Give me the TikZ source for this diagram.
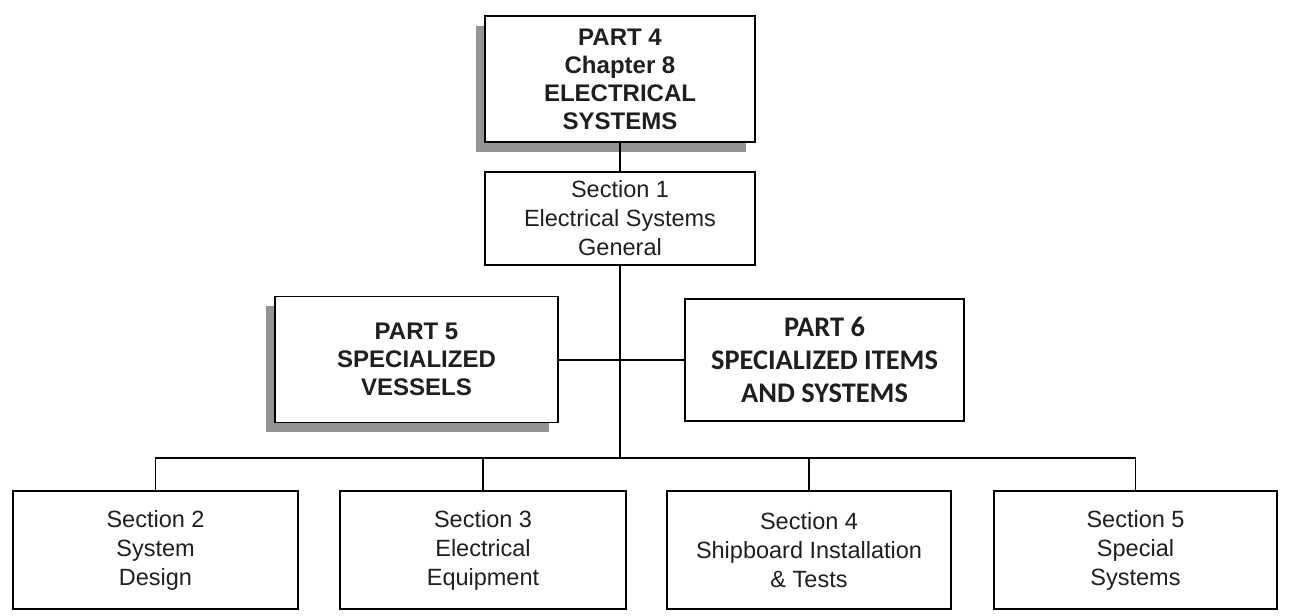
\documentclass[tikz,border=0pt]{standalone}
\usepackage{fontspec}
\setmainfont{Liberation Sans}
\newfontfamily\carlito{Carlito}
\usetikzlibrary{shadows}
\tikzset{
  wh/.style 2 args={minimum width=#1*0.5pt, minimum height=#2*0.5pt},
  box/.style={draw, line width=0.9pt, inner sep=0pt, outer sep=0pt, align=center, fill=white, text=black!88},
  shade box/.style={box, drop shadow={shadow xshift=-4.5pt, shadow yshift=-4.8pt, fill=black!42, opacity=1}},
  headfont/.style={font=\fontsize{12}{14}\selectfont\bfseries},
  secfont/.style={font=\fontsize{11.75}{14.5}\selectfont},
  p6font/.style={font=\carlito\fontsize{14.2}{16.6}\selectfont\bfseries},
  link/.style={line width=0.75pt},
  thicklink/.style={line width=1.1pt}
}
\begin{document}
\begin{tikzpicture}[x=0.5pt, y=-0.5pt]
\useasboundingbox (0,0) rectangle (1293,615);
% top
\node[shade box, headfont, wh={270}{126}] (top) at (620,79) {PART 4\\Chapter 8\\ELECTRICAL\\SYSTEMS};
\node[box, secfont, wh={270}{93}] (s1) at (620,218.5) {Section 1\\Electrical Systems\\General};
% middle
\node[shade box, headfont, wh={283}{126}] (p5) at (416.5,359.5) {PART 5\\SPECIALIZED\\VESSELS};
\node[box, p6font, line width=1.35pt, wh={279}{122}] (p6) at (824.5,360) {PART 6\\SPECIALIZED ITEMS\\AND SYSTEMS};
% bottom
\node[box, secfont, wh={285}{118}] (s2) at (155.5,550) {Section 2\\System\\Design};
\node[box, secfont, wh={286}{118}] (s3) at (483,550) {Section 3\\Electrical\\Equipment};
\node[box, secfont, wh={284}{118}] (s4) at (809,550) {Section 4\\Shipboard Installation\\\& Tests};
\node[box, secfont, wh={283}{118}] (s5) at (1135.5,550) {Section 5\\Special\\Systems};
% junctions
\coordinate (J) at (620,360);
\coordinate (B) at (620,458);
% connectors
\draw[link] (top.south) -- (s1.north);
\draw[link] (s1.south) -- (J) -- (B);
\draw[link] (J) -- (p5.east |- J);
\draw[thicklink] (J) -- (p6.west |- J);
\draw[link] (B) -| (s2.north);
\draw[link] (B) -| (s3.north);
\draw[link] (B) -| (s4.north);
\draw[link] (B) -| (s5.north);
\end{tikzpicture}
\end{document}
